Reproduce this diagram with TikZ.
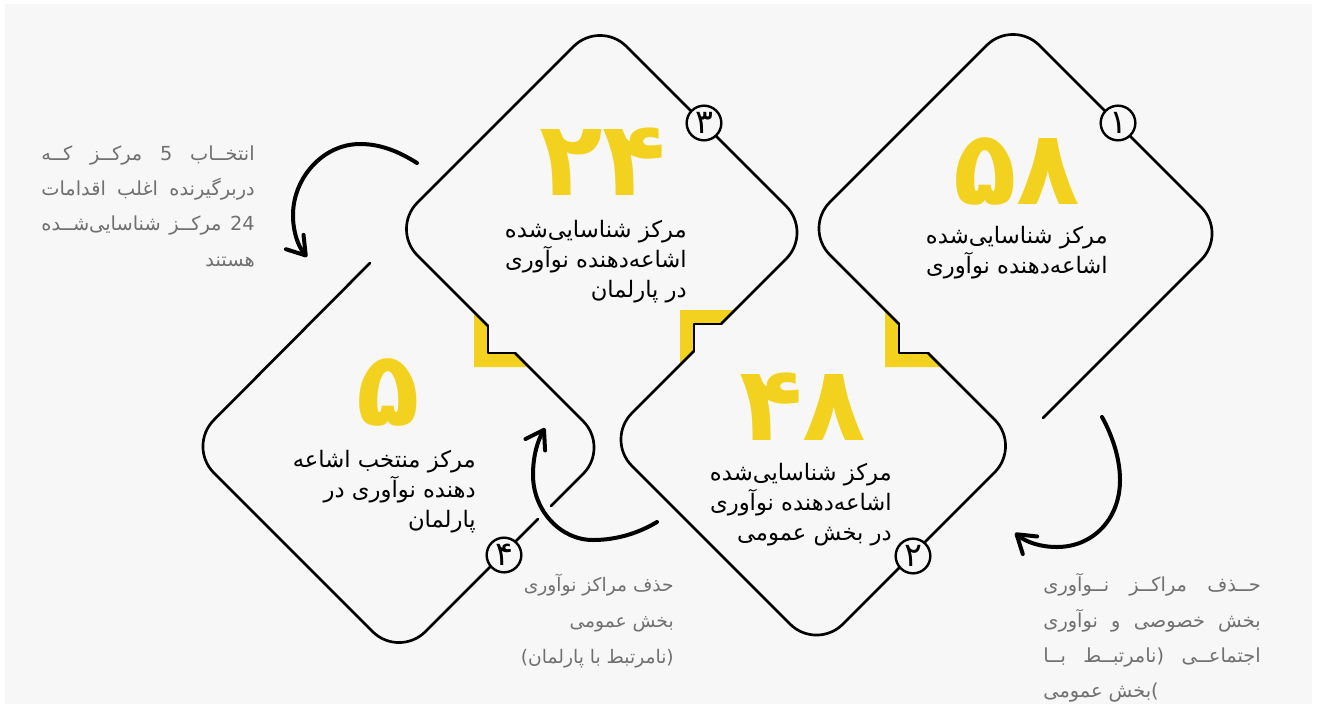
\documentclass[tikz,border=0pt]{standalone}
\usepackage{fontspec}
\usetikzlibrary{arrows.meta}
\TeXXeTstate=1
\newfontfamily\fa[Script=Arabic]{DejaVu Sans}
\newcommand{\rl}[1]{\beginR#1\endR}
\definecolor{pagegray}{HTML}{F7F7F7}
\definecolor{stepyellow}{HTML}{F3D21F}
\definecolor{notegray}{HTML}{707070}

\begin{document}
\begin{tikzpicture}[x=0.75pt, y=-0.75pt,
    rim/.style={line width=2pt, line cap=round, line join=round},
    roundrim/.style={rim, rounded corners=28pt},
    curl/.style={line width=3pt, line cap=round, -{Straight Barb[length=13pt,width=17pt,round]}},
    badge/.style={circle, draw, line width=1.8pt, fill=pagegray, minimum size=26pt, inner sep=0pt, font=\fa\fontsize{25}{25}\selectfont},
    bignum/.style={inner sep=0pt, text=stepyellow, font=\fa\bfseries\fontsize{78}{78}\selectfont},
    boxtext/.style={inner sep=0pt, align=right, font=\fa\fontsize{17}{22.5}\selectfont},
    note/.style={inner sep=0pt, align=right, text=notegray, font=\fa\fontsize{14.5}{26.5}\selectfont}]

  % page
  \useasboundingbox (0,0) rectangle (1317,704);
  \fill[white] (0,0) rectangle (1317,704);
  \fill[pagegray] (5,4) rectangle (1312,704);

  % yellow steps
  \fill[stepyellow] (474,312) -- (474,367) -- (529,367) -- (515,353) -- (488,353) -- (488,326) -- cycle;
  \fill[stepyellow] (680,365) -- (680,310) -- (735,310) -- (721,324) -- (694,324) -- (694,351) -- cycle;
  \fill[stepyellow] (885,310) -- (885,367) -- (942,367) -- (928,353) -- (899,353) -- (899,324) -- cycle;

  % outline of the four cards
  \draw[roundrim] (370,263) -- (187.5,446.5) -- (399,658) -- (538,519);
  \draw[roundrim] (551,506) -- (609.5,447.5) -- (515,353);
  \draw[rim] (515,353) -- (488,353) -- (488,326);
  \draw[roundrim] (488,326) -- (391,229) -- (600,20) -- (812.5,232.5) -- (721,324);
  \draw[rim] (721,324) -- (694,324) -- (694,351);
  \draw[roundrim] (694,351) -- (605.5,439.5) -- (816.5,650.5) -- (1021,446) -- (928,353);
  \draw[rim] (928,353) -- (899,353) -- (899,324);
  \draw[roundrim] (899,324) -- (803.5,228.5) -- (1013,19) -- (1227.5,233.5) -- (1043,418);

  % step numbers
  \node[badge] (one) at (1118,123) {۱};
  \node[badge] (two) at (913,556) {۲};
  \node[badge] (three) at (704,123) {۳};
  \node[badge] (four) at (504,555) {۴};

  % big numbers
  \node[bignum] (n58) at (1017,171) {۵۸};
  \node[bignum] (n24) at (603,162) {۲۴};
  \node[bignum] (n48) at (803,407) {۴۸};
  \node[bignum] (n5) at (388,392) {۵};

  % card texts
  \node[boxtext, anchor=east] (t58) at (1108,253)
    {\rl{مرکز شناسایی^^^^200cشده}\\\rl{اشاعه^^^^200cدهنده نوآوری}};
  \node[boxtext, anchor=east] (t24) at (687,262)
    {\rl{مرکز شناسایی^^^^200cشده}\\\rl{اشاعه^^^^200cدهنده نوآوری}\\\rl{در پارلمان}};
  \node[boxtext, anchor=east] (t48) at (892,505)
    {\rl{مرکز شناسایی^^^^200cشده}\\\rl{اشاعه^^^^200cدهنده نوآوری}\\\rl{در بخش عمومی}};
  \node[boxtext, anchor=east] (t5) at (476,492)
    {\rl{مرکز منتخب اشاعه}\\\rl{دهنده نوآوری در}\\\rl{پارلمان}};

  % side notes
  \node[note, anchor=east] (selectnote) at (255,206)
    {\hbox to 160pt{\rl{انتخــاب\hfill 5\hfill مرکــز\hfill کــه}}\\
     \hbox to 160pt{\rl{دربرگیرنده\hfill اغلب\hfill اقدامات}}\\
     \hbox to 160pt{\rl{24\hfill مرکــز\hfill شناسایی^^^^200cشــده}}\\
     \rl{هستند}};
  \node[note, anchor=east] (dropnote) at (1261,638)
    {\hbox to 163pt{\rl{حــذف\hfill مراکــز\hfill نــوآوری}}\\
     \hbox to 163pt{\rl{بخش\hfill خصوصی\hfill و\hfill نوآوری}}\\
     \hbox to 163pt{\rl{اجتماعــی\hfill (نامرتبــط\hfill بــا}}\\
     \hbox to 163pt{\rl{بخش عمومی})\hfill}};
  \node[note, anchor=east, font=\fa\fontsize{14}{27}\selectfont] (publicnote) at (674,621)
    {\rl{حذف مراکز نوآوری}\\\rl{بخش عمومی}\\\rl{(نامرتبط با پارلمان)}};

  % arrows between the cards
  \coordinate (selectfrom) at (417,163);
  \coordinate (selectto) at (307,257);
  \draw[curl] (selectfrom) .. controls (398,151) and (380,144) .. (360,144)
    .. controls (323,144) and (293,178) .. (293,215)
    .. controls (293,232) and (298,246) .. (selectto);

  \coordinate (dropfrom) at (1102,417);
  \coordinate (dropto) at (1015,533);
  \draw[curl] (dropfrom) .. controls (1112,435) and (1120,458) .. (1120,480)
    .. controls (1120,520) and (1092,547) .. (1057,547)
    .. controls (1040,547) and (1026,542) .. (dropto);

  \coordinate (publicfrom) at (657,522);
  \coordinate (publicto) at (545,428);
  \draw[curl] (publicfrom) .. controls (637,534) and (615,540) .. (593,540)
    .. controls (560,540) and (533,510) .. (533,475)
    .. controls (533,455) and (538,440) .. (publicto);
\end{tikzpicture}
\end{document}
